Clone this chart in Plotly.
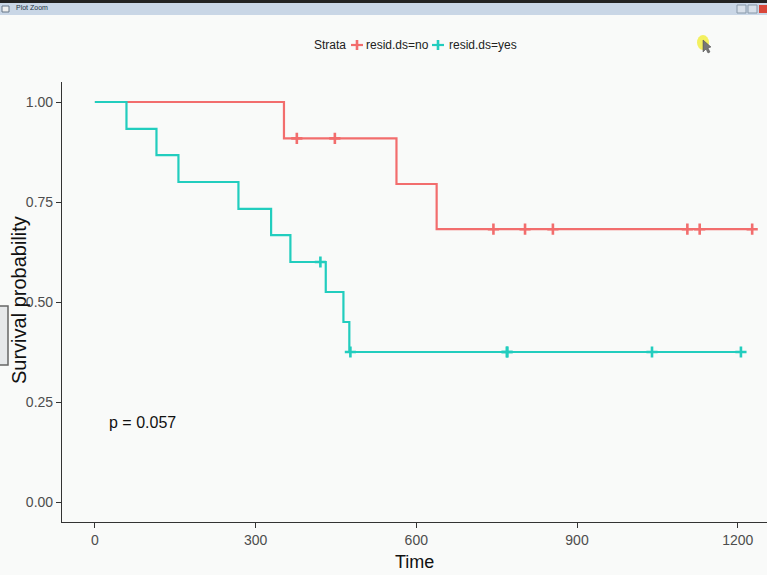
import plotly.graph_objects as go

# Kaplan-Meier steps
no_time = [0, 353, 563, 638, 1227]
no_surv = [1.0, 0.909, 0.795, 0.682, 0.682]
no_cens_time = [377, 448, 744, 803, 855, 1106, 1129, 1227]
no_cens_surv = [0.909, 0.909, 0.682, 0.682, 0.682, 0.682, 0.682, 0.682]

yes_time = [0, 59, 115, 156, 268, 329, 365, 431, 464, 475, 1206]
yes_surv = [1.0, 0.933, 0.867, 0.8, 0.733, 0.667, 0.6, 0.525, 0.45, 0.375, 0.375]
yes_cens_time = [421, 477, 769, 770, 1040, 1206]
yes_cens_surv = [0.6, 0.375, 0.375, 0.375, 0.375, 0.375]

strata = ["resid.ds=no", "resid.ds=yes"]
x_ticks = [0, 300, 600, 900, 1200]
y_ticks = [0.0, 0.25, 0.5, 0.75, 1.0]
y_tick_text = ["0.00", "0.25", "0.50", "0.75", "1.00"]

RED = "#F26D6D"
CYAN = "#22CDBE"
BG = "#F9FAF9"
FONT = "Liberation Sans, Arial"

fig = go.Figure()

series = [
    (strata[0], no_time, no_surv, no_cens_time, no_cens_surv, RED),
    (strata[1], yes_time, yes_surv, yes_cens_time, yes_cens_surv, CYAN),
]
for name, t, s, ct, cs, col in series:
    fig.add_trace(go.Scatter(
        x=t, y=s, mode="lines", line=dict(color=col, width=2.2, shape="hv"),
        name=name, showlegend=False, hoverinfo="skip"))
    fig.add_trace(go.Scatter(
        x=ct, y=cs, mode="markers",
        marker=dict(symbol="cross-thin", size=8, line=dict(color=col, width=2.6), color=col),
        name=name, showlegend=False, hoverinfo="skip"))

# pixel helpers (plot area in page pixels)
L, T, W, H = 62, 82, 705, 440
def px(xp):
    return (xp - L) / W
def py(yp):
    return 1 + (T - yp) / H

annotations = [
    dict(x=22, y=0.2, xref="x", yref="y", text="p = 0.057", showarrow=False,
         xanchor="left", yanchor="middle", font=dict(family=FONT, size=16, color="#111111")),
    dict(x=px(19), y=py(300), xref="paper", yref="paper", text="Survival probability",
         textangle=-90, showarrow=False, xanchor="center", yanchor="middle",
         font=dict(family=FONT, size=20, color="#111111")),
    dict(x=px(415), y=py(562), xref="paper", yref="paper", text="Time", showarrow=False,
         xanchor="center", yanchor="middle", font=dict(family=FONT, size=18, color="#111111")),
    # legend built by hand to match the compact ggplot legend
    dict(x=px(330), y=py(45), xref="paper", yref="paper", text="Strata", showarrow=False,
         xanchor="center", yanchor="middle", font=dict(family=FONT, size=12, color="#222222")),
    dict(x=px(397), y=py(45), xref="paper", yref="paper", text=strata[0], showarrow=False,
         xanchor="center", yanchor="middle", font=dict(family=FONT, size=12, color="#222222")),
    dict(x=px(483), y=py(45), xref="paper", yref="paper", text=strata[1], showarrow=False,
         xanchor="center", yanchor="middle", font=dict(family=FONT, size=12, color="#222222")),
    dict(x=px(14), y=py(8), xref="paper", yref="paper", text="Plot Zoom", showarrow=False,
         xanchor="left", yanchor="middle", font=dict(family=FONT, size=7, color="#223344")),
]

def key(cx, col):
    return [
        dict(type="line", xref="paper", yref="paper", x0=px(cx - 6), x1=px(cx + 6),
             y0=py(45), y1=py(45), line=dict(color=col, width=2.2), layer="above"),
        dict(type="line", xref="paper", yref="paper", x0=px(cx), x1=px(cx),
             y0=py(50), y1=py(40), line=dict(color=col, width=2.6), layer="above"),
    ]

def cursor_path():
    pts = [(703, 40), (703, 52), (706, 49), (708, 53), (710, 52), (708, 48), (711, 47)]
    return "M " + " L ".join(f"{px(a):.5f},{py(b):.5f}" for a, b in pts) + " Z"

shapes = [
    dict(type="rect", xref="paper", yref="paper", x0=px(0), x1=px(767), y0=py(15), y1=py(3),
         fillcolor="#C9D6E6", line=dict(width=0), layer="above"),
    dict(type="rect", xref="paper", yref="paper", x0=px(0), x1=px(767), y0=py(3), y1=py(0),
         fillcolor="#222222", line=dict(width=0), layer="above"),
    dict(type="rect", xref="paper", yref="paper", x0=px(737), x1=px(746), y0=py(13), y1=py(5),
         fillcolor="#D8E0EA", line=dict(width=1, color="#8899AA"), layer="above"),
    dict(type="rect", xref="paper", yref="paper", x0=px(748), x1=px(757), y0=py(13), y1=py(5),
         fillcolor="#D8E0EA", line=dict(width=1, color="#8899AA"), layer="above"),
    dict(type="rect", xref="paper", yref="paper", x0=px(759), x1=px(767), y0=py(13), y1=py(5),
         fillcolor="#D9473A", line=dict(width=0), layer="above"),
    dict(type="rect", xref="paper", yref="paper", x0=px(2), x1=px(9), y0=py(12), y1=py(6),
         fillcolor="#EEEEEE", line=dict(width=1, color="#667788"), layer="above"),
    dict(type="rect", xref="paper", yref="paper", x0=px(-2), x1=px(8), y0=py(365), y1=py(306),
         fillcolor="#E6E8EA", line=dict(width=1.5, color="#666666"), layer="below"),
    dict(type="circle", xref="paper", yref="paper", x0=px(697), x1=px(709), y0=py(50), y1=py(35),
         fillcolor="#F3F060", line=dict(width=0), layer="above"),
    dict(type="path", xref="paper", yref="paper", path=cursor_path(),
         fillcolor="#777777", line=dict(width=0.5, color="#444444"), layer="above"),
] + key(357, RED) + key(438, CYAN)

fig.update_layout(
    width=767, height=575,
    margin=dict(l=L, r=0, t=T, b=575 - T - H, pad=0),
    paper_bgcolor=BG, plot_bgcolor=BG,
    font=dict(family=FONT, color="#4D4D4D"),
    shapes=shapes, annotations=annotations,
    showlegend=False,
    xaxis=dict(range=[-61.35, (767 - 95) / 0.5356], tickvals=x_ticks,
               showgrid=False, zeroline=False, showline=True, linecolor="#333333", linewidth=1.2,
               ticks="outside", ticklen=5, tickcolor="#333333", tickwidth=1,
               tickfont=dict(size=14, color="#4D4D4D")),
    yaxis=dict(range=[-0.05, 1.05], tickvals=y_ticks, ticktext=y_tick_text,
               showgrid=False, zeroline=False, showline=True, linecolor="#333333", linewidth=1.2,
               ticks="outside", ticklen=5, tickcolor="#333333", tickwidth=1,
               tickfont=dict(size=14, color="#4D4D4D")),
)

fig.write_html(
    "out.html",
    config={"displayModeBar": False},
    post_script="document.body.style.margin='0';document.body.style.overflow='hidden';"
                "document.body.style.background='%s';" % BG,
)
